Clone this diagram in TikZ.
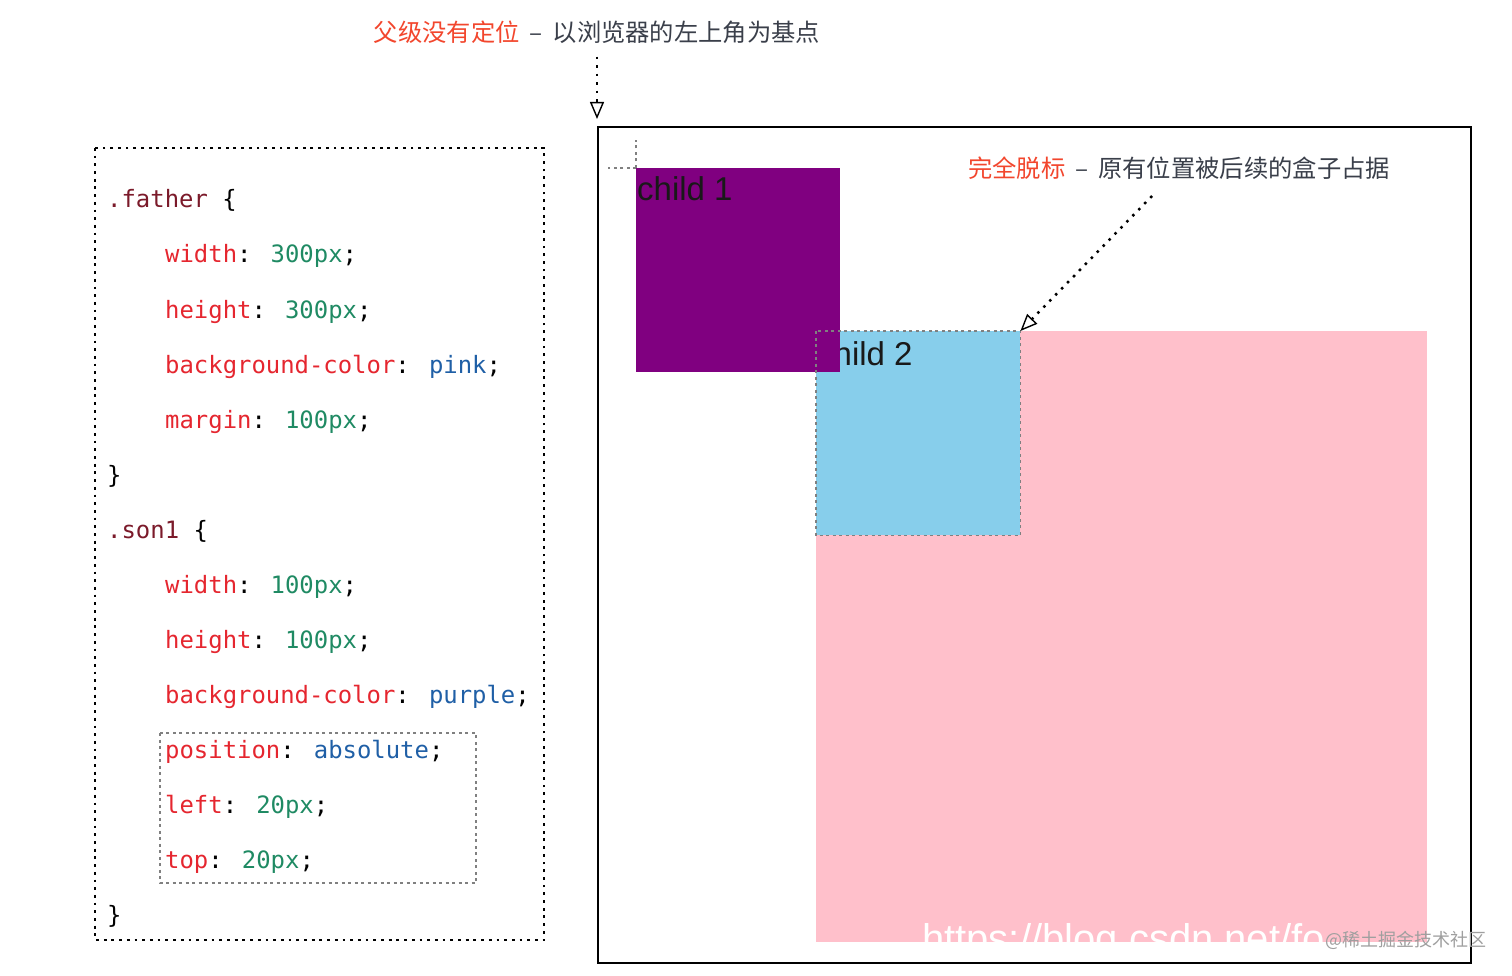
\documentclass[tikz,border=0pt]{standalone}
\usepackage{fontspec}
\usetikzlibrary{arrows.meta}
\newfontfamily\codefont{DejaVu Sans Mono}
\newfontfamily\cjkfont{Noto Sans CJK SC}
\newfontfamily\boxfont{Liberation Sans}
\definecolor{selred}{HTML}{7B1A2A}
\definecolor{propred}{HTML}{E5262F}
\definecolor{valgreen}{HTML}{1F8A63}
\definecolor{kwblue}{HTML}{1F5FA6}
\definecolor{hintred}{HTML}{F2462D}
\definecolor{hintgray}{HTML}{3A3F4A}
\definecolor{csspurple}{HTML}{800080}
\definecolor{csspink}{HTML}{FFC0CB}
\definecolor{cssskyblue}{HTML}{87CEEB}
\newcommand{\csssel}[1]{\textcolor{selred}{#1}}
\newcommand{\cssprop}[1]{\textcolor{propred}{#1}}
\newcommand{\cssval}[1]{\textcolor{valgreen}{#1}}
\newcommand{\csskw}[1]{\textcolor{kwblue}{#1}}
\newcommand{\hintdash}{\hspace{10pt}–\hspace{10pt}}
\begin{document}
\begin{tikzpicture}[x=1pt, y=-1pt,
    code/.style={anchor=base west, inner sep=0pt, font=\codefont\fontsize{23.9}{29}\selectfont},
    hint/.style={inner sep=0pt, font=\cjkfont\fontsize{24.3}{28}\selectfont},
    cssbox/.style={anchor=north west, inner sep=0pt, minimum width=#1, minimum height=#1},
    boxlabel/.style={anchor=base west, inner sep=0pt, text=black!90, font=\boxfont\fontsize{33}{38}\selectfont},
    hintarrow/.style={line width=2.5pt, dash pattern=on 2.5pt off 6pt,
        -{Triangle[open, length=17pt, width=14pt, line width=1.4pt]}},
    offsetline/.style={gray, line width=1.6pt, dash pattern=on 3pt off 3.5pt}]
    \useasboundingbox (0,0) rectangle (1512,976);

    % Code panel
    \draw[line width=2.5pt, dash pattern=on 2.8pt off 4.9pt] (95,148) rectangle (544,940);
    \foreach \ind/\txt [count=\i] in {
        0/{\csssel{.father} \{},
        1/{\cssprop{width}: \cssval{300px};},
        1/{\cssprop{height}: \cssval{300px};},
        1/{\cssprop{background-color}: \csskw{pink};},
        1/{\cssprop{margin}: \cssval{100px};},
        0/{\}},
        0/{\csssel{.son1} \{},
        1/{\cssprop{width}: \cssval{100px};},
        1/{\cssprop{height}: \cssval{100px};},
        1/{\cssprop{background-color}: \csskw{purple};},
        1/{\cssprop{position}: \csskw{absolute};},
        1/{\cssprop{left}: \cssval{20px};},
        1/{\cssprop{top}: \cssval{20px};},
        0/{\}}} {
        \node[code] (line\i) at (107+58*\ind, {208+55*(\i-1)}) {\txt};
    }
    \draw[offsetline] (160,733) rectangle (476,883);

    % Browser window
    \node[draw, line width=2pt, anchor=north west, inner sep=0pt,
        minimum width=873pt, minimum height=836pt] (browser) at (597,126) {};

    % Boxes
    \node[cssbox=611pt, fill=csspink] (father) at (816,331) {};
    \node[cssbox=204pt, fill=cssskyblue] (child2) at (816,331) {};
    \node[boxlabel] (name2) at ([shift={(1,34)}]child2.north west) {child 2};
    \node[cssbox=204pt, fill=csspurple] (child1) at (636,168) {};
    \node[boxlabel] (name1) at ([shift={(1,33)}]child1.north west) {child 1};
    \draw[offsetline] (child2.north west) rectangle (child2.south east);
    \draw[offsetline] (child1.north west) -- ++(-28,0);
    \draw[offsetline] (child1.north west) -- ++(0,-28);

    % Hints
    \node[hint] (hint1) at (597,32) {\textcolor{hintred}{父级没有定位}\textcolor{hintgray}{\hintdash 以浏览器的左上角为基点}};
    \node[hint] (hint2) at (1179,168) {\textcolor{hintred}{完全脱标}\textcolor{hintgray}{\hintdash 原有位置被后续的盒子占据}};
    \coordinate (tail2) at (1152,196);
    \draw[hintarrow, shorten <=13pt, shorten >=7pt] (hint1.south) -- (browser.north west);
    \draw[hintarrow] (tail2) -- (child2.north east);

    % Watermark
    \node[anchor=base west, inner sep=0pt, text=white, font=\boxfont\fontsize{40}{44}\selectfont] (mark) at (922,952) {https://blog.csdn.net/fo};
    \node[anchor=west, inner sep=0pt, text=gray!75, font=\cjkfont\fontsize{18}{20}\selectfont] (site) at (1325,940) {@稀土掘金技术社区};
\end{tikzpicture}
\end{document}
